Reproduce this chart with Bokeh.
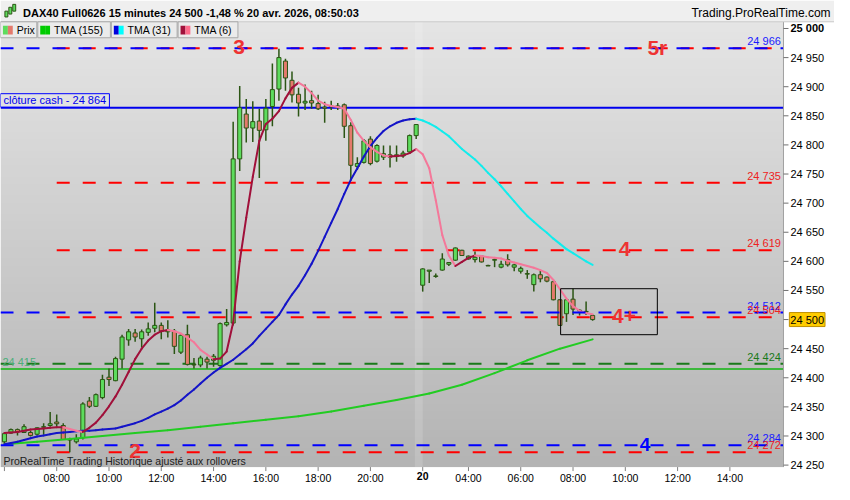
import numpy as np
from bokeh.plotting import figure
from bokeh.models import ColumnDataSource, Label, BoxAnnotation
from bokeh.core.properties import value
from bokeh.embed import file_html
from bokeh.resources import INLINE

# DAX40 15-minute bars; x is the bar number (sessions joined, no gaps), bar 0 = 06:00
opens = [24290, 24305, 24311, 24306, 24306, 24303, 24315, 24318, 24324, 24318,
         24294, 24290, 24297, 24360, 24351, 24366, 24401, 24395, 24432, 24465,
         24477, 24467, 24478, 24485, 24490, 24479, 24480, 24444, 24474, 24422,
         24422, 24432, 24430, 24421, 24491, 24494, 24776, 24853, 24829, 24841,
         24826, 24866, 24896, 24944, 24911, 24887, 24872, 24876, 24871, 24865,
         24867, 24867, 24869, 24833, 24763, 24770, 24810, 24772, 24779, 24783,
         24783, 24781, 24788, 24816, 24559, 24583, 24574, 24585, 24595, 24602,
         24619, 24604, 24603, 24609, 24593, 24602, 24590, 24603, 24590, 24583,
         24578, 24560, 24577, 24573, 24565, 24534, 24510, 24535, 24516, 24514,
         24507]
highs = [24306, 24313, 24313, 24320, 24309, 24315, 24322, 24341, 24337, 24322,
         24297, 24303, 24358, 24367, 24373, 24405, 24416, 24436, 24474, 24484,
         24484, 24483, 24495, 24529, 24495, 24499, 24484, 24476, 24491, 24434,
         24438, 24436, 24441, 24495, 24518, 24840, 24901, 24879, 24875, 24862,
         24879, 24940, 24965, 24948, 24926, 24898, 24904, 24893, 24886, 24874,
         24876, 24872, 24871, 24839, 24779, 24810, 24815, 24801, 24799, 24799,
         24799, 24790, 24818, 24836, 24588, 24585, 24579, 24614, 24598, 24624,
         24620, 24610, 24617, 24611, 24594, 24606, 24601, 24612, 24596, 24591,
         24585, 24579, 24585, 24574, 24566, 24535, 24535, 24553, 24518, 24531,
         24509]
lows = [24286, 24304, 24301, 24305, 24299, 24301, 24302, 24316, 24316, 24293,
        24272, 24287, 24294, 24348, 24350, 24363, 24386, 24394, 24416, 24455,
        24462, 24452, 24472, 24478, 24466, 24469, 24441, 24441, 24421, 24416,
        24418, 24416, 24419, 24419, 24488, 24490, 24755, 24804, 24805, 24743,
        24807, 24832, 24876, 24893, 24873, 24849, 24860, 24862, 24860, 24838,
        24860, 24860, 24812, 24740, 24757, 24768, 24765, 24770, 24774, 24761,
        24771, 24778, 24785, 24810, 24548, 24563, 24572, 24584, 24592, 24601,
        24609, 24603, 24598, 24598, 24592, 24590, 24588, 24591, 24583, 24579,
        24570, 24548, 24564, 24564, 24533, 24490, 24496, 24508, 24507, 24508,
        24498]
closes = [24304, 24311, 24307, 24316, 24301, 24314, 24316, 24321, 24321, 24294,
          24293, 24295, 24355, 24351, 24371, 24397, 24397, 24433, 24470, 24479,
          24470, 24479, 24484, 24490, 24480, 24482, 24454, 24473, 24423, 24423,
          24434, 24427, 24437, 24493, 24495, 24776, 24864, 24829, 24840, 24825,
          24863, 24895, 24950, 24915, 24886, 24872, 24875, 24872, 24862, 24863,
          24866, 24866, 24832, 24765, 24768, 24807, 24768, 24799, 24785, 24779,
          24780, 24786, 24816, 24835, 24587, 24585, 24575, 24604, 24598, 24623,
          24610, 24609, 24607, 24599, 24592, 24603, 24595, 24594, 24594, 24588,
          24579, 24577, 24570, 24566, 24534, 24490, 24534, 24518, 24515, 24513,
          24500]

tma6 = [24305, 24306, 24307, 24309, 24311, 24312, 24313, 24314, 24315, 24315,
        24312, 24309, 24307, 24314, 24323, 24336, 24351, 24368, 24388, 24410,
        24432, 24450, 24464, 24474, 24480, 24482, 24480, 24476, 24469, 24461,
        24448, 24440, 24432, 24433, 24445, 24495, 24600, 24675, 24745, 24807,
        24836, 24845, 24858, 24880, 24898, 24907, 24900, 24889, 24876, 24870,
        24867, 24865, 24862, 24843, 24821, 24807, 24796, 24788, 24782, 24780,
        24781, 24782, 24786, 24793, 24784, 24760, 24705, 24645, 24610, 24592,
        24599, 24606, 24610, 24609, 24607, 24606, 24605, 24601, 24598, 24595,
        24592, 24589, 24585, 24580, 24568, 24552, 24536, 24523, 24515, 24511,
        24509]
tma31 = [24286, 24288, 24290, 24293, 24296, 24299, 24301, 24303, 24305, 24306,
         24307, 24308, 24309, 24309, 24310, 24311, 24312, 24313, 24316, 24319,
         24322, 24326, 24331, 24337, 24342, 24347, 24353, 24361, 24371, 24380,
         24390, 24400, 24409, 24417, 24424, 24431, 24440, 24449, 24459, 24472,
         24484, 24496, 24508, 24526, 24543, 24558, 24576, 24596, 24618, 24642,
         24666, 24690, 24716, 24740, 24760, 24780, 24798, 24812, 24824, 24832,
         24838, 24842, 24844, 24845, 24842, 24837, 24831, 24823, 24815, 24804,
         24793, 24784, 24775, 24764, 24752, 24741, 24729, 24716, 24703, 24690,
         24678, 24668, 24658, 24649, 24639, 24630, 24621, 24614, 24607, 24600,
         24594]
tma155_bar = [0, 5, 10, 15, 20, 25, 30, 35, 40, 45, 50, 55, 60, 65, 70, 75, 80, 85, 90]
tma155 = [24286, 24290, 24295, 24300, 24305, 24310, 24316, 24322, 24328, 24334,
          24342, 24352, 24362, 24373, 24388, 24408, 24430, 24450, 24466]

tick_bar = [0, 8, 16, 24, 32, 40, 48, 56, 71, 79, 87, 95, 103, 111]
tick_lab = ["", "08:00", "10:00", "12:00", "14:00", "16:00", "18:00", "20:00",
            "04:00", "06:00", "08:00", "10:00", "12:00", "14:00"]
day_bar = 64
day_lab = "20"
price_ticks = list(range(24250, 25001, 50))

red_levels = [24966, 24735, 24619, 24504, 24272]
red_from = 8
blue_levels = [24966, 24512, 24284]
cash_close = 24864
green_dash_level = 24424
green_level = 24415
last_price = 24500

right_vals = [24966, 24735, 24619, 24512, 24504, 24424, 24284, 24272]
right_cols = ["#1a1aff", "#ee2222", "#ee2222", "#1a1aff", "#ee2222", "#1a7a1a", "#1a1aff", "#ee2222"]

mark_text = ["3", "5r", "4", "4+", "4", "2"]
mark_bar = [35.9, 99.9, 94.9, 94.8, 98.0, 20.0]
mark_price = [24966, 24966, 24619, 24504, 24284, 24272]
mark_col = ["#ee3333", "#ee3333", "#ee3333", "#ee3333", "#0000ff", "#ee3333"]
mark_size = ["21px", "21px", "21px", "21px", "19px", "21px"]

zone_bars = [85.1, 99.9]
zone_prices = [24474, 24553]

FONT = "Liberation Sans"
W, H = 834, 484
SX, SY = W / 850.0, H / 500.0          # reference layout -> canvas pixels
X0, X1 = -0.6, 119.2                   # bars visible in the price pane
Y0, Y1 = 24246.6, 25011.5              # prices visible in the price pane
PANE_R, PANE_T, PANE_B = 798, 22, 482  # price pane edges in the reference layout
ppb = PANE_R * SX / (X1 - X0)          # pixels per bar
ppp = (PANE_B - PANE_T) * SY / (Y1 - Y0)  # pixels per index point
XR = (X0, X0 + W / ppb)
YR = (Y0 - (H - PANE_B * SY) / ppp, Y1 + PANE_T * SY / ppp)


def sx(px):
    return px * SX


def sy(py):
    return (500.0 - py) * SY


def fmt(v):
    return f"{v:,}".replace(",", " ")


def screen_box(l, r, t, b, **kw):
    return BoxAnnotation(left=sx(l), right=sx(r), top=sy(t), bottom=sy(b),
                         left_units="screen", right_units="screen", top_units="screen",
                         bottom_units="screen", fill_alpha=1, line_alpha=1, **kw)


p = figure(width=W, height=H, x_range=XR, y_range=YR, output_backend="svg",
           toolbar_location=None, x_axis_location=None, y_axis_location=None,
           min_border=0, background_fill_color="white", border_fill_color="white",
           outline_line_color=None)
p.grid.visible = False

# grey vertical gradient of the price pane
n = 120
shade = np.linspace(180, 229, n).astype(np.uint8)
img = np.zeros((n, 1), dtype=np.uint32)
rgba = img.view(dtype=np.uint8).reshape((n, 1, 4))
rgba[:, 0, 0] = shade
rgba[:, 0, 1] = shade
rgba[:, 0, 2] = shade
rgba[:, 0, 3] = 255
p.image_rgba(image=[img], x=X0, y=Y0, dw=X1 - X0, dh=Y1 - Y0, level="image")
p.add_layout(BoxAnnotation(left=day_bar - 1.2, right=day_bar, top=Y1, bottom=Y0,
                           fill_color="white", fill_alpha=0.15, line_color=None,
                           level="underlay"))

# levels (red first so the blue dashes sit on top)
p.segment(x0=[red_from] * len(red_levels), y0=red_levels, x1=[X1] * len(red_levels),
          y1=red_levels, line_color="#ff0000", line_width=2, line_dash="13 13")
p.segment(x0=[X0], y0=[green_level], x1=[X1], y1=[green_level], line_color="#3cb83c", line_width=2)
p.segment(x0=[X0], y0=[green_dash_level], x1=[X1], y1=[green_dash_level],
          line_color="#1a7a1a", line_width=2, line_dash="13 13")
p.segment(x0=[X0], y0=[cash_close], x1=[X1], y1=[cash_close], line_color="#0000ee", line_width=2)

# candles
bars = list(range(len(closes)))
src = ColumnDataSource(dict(
    x=bars, high=highs, low=lows,
    top=[max(o, c) for o, c in zip(opens, closes)],
    bottom=[min(o, c) for o, c in zip(opens, closes)],
    fill=["#5ddc5d" if c >= o else "#e47a6c" for o, c in zip(opens, closes)]))
p.segment(x0="x", y0="high", x1="x", y1="low", source=src, line_color="#2b5514", line_width=1.5)
p.vbar(x="x", width=0.62, top="top", bottom="bottom", source=src,
       fill_color="fill", line_color="#2b5514", line_width=1)


def two_tone(xs, ys, rising, falling):
    col = [rising if b >= a else falling for a, b in zip(ys[:-1], ys[1:])]
    p.segment(x0=xs[:-1], y0=ys[:-1], x1=xs[1:], y1=ys[1:], line_color=col,
              line_width=2, line_cap="round")


two_tone(tma155_bar, tma155, "#22cc22", "#22cc22")
two_tone(bars, tma31, "#1414c8", "#12ecec")
two_tone(bars, tma6, "#a0103a", "#f4789a")

p.segment(x0=[X0] * len(blue_levels), y0=blue_levels, x1=[X1] * len(blue_levels),
          y1=blue_levels, line_color="#0000ff", line_width=2, line_dash="13 13")

p.add_layout(BoxAnnotation(left=zone_bars[0], right=zone_bars[1], bottom=zone_prices[0],
                           top=zone_prices[1], fill_alpha=0, line_color="black",
                           line_alpha=1, line_width=1))

# price scale on the right
nt = len(price_ticks)
p.segment(x0=[X1], y0=[Y0], x1=[X1], y1=[Y1], line_color="#a0a0a0", line_width=1)
p.segment(x0=[X1] * nt, y0=price_ticks, x1=[X1 + 5 / ppb] * nt, y1=price_ticks,
          line_color="#707070", line_width=1)
p.text(x=[X1] * (nt - 1), y=price_ticks[:-1], text=[fmt(t) for t in price_ticks[:-1]],
       x_offset=7, text_baseline="middle", text_color="black",
       text_font=value(FONT), text_font_size=value("11px"))
p.text(x=[X1], y=price_ticks[-1:], text=[fmt(price_ticks[-1])], x_offset=7,
       text_baseline="middle", text_color="black", text_font=value(FONT),
       text_font_size=value("11px"), text_font_style="bold")

# time scale below
nx = len(tick_bar)
p.segment(x0=tick_bar, y0=[Y0] * nx, x1=tick_bar, y1=[Y0 - 4 / ppp] * nx,
          line_color="#808080", line_width=1)
p.segment(x0=[day_bar], y0=[Y0], x1=[day_bar], y1=[Y0 - 4 / ppp], line_color="#808080")
p.text(x=tick_bar, y=[Y0] * nx, text=tick_lab, y_offset=5, text_align="center",
       text_baseline="top", text_color="black", text_font=value(FONT),
       text_font_size=value("10.5px"))
p.text(x=[day_bar], y=[Y0], text=[day_lab], y_offset=5, text_align="center",
       text_baseline="top", text_color="black", text_font=value(FONT),
       text_font_size=value("10.5px"), text_font_style="bold")

# level values on the right of the pane
for v, c in zip(right_vals, right_cols):
    p.add_layout(Label(x=118.8, y=v, y_offset=1, text=fmt(v),
                       text_align="right", text_baseline="bottom", text_color=c,
                       text_font=FONT, text_font_size="11px"))
p.add_layout(Label(x=-0.3, y=green_level, y_offset=1, text=fmt(green_level),
                   text_baseline="bottom", text_color="#4caf7a", text_font=FONT,
                   text_font_size="11px"))

for t, b, v, c, s in zip(mark_text, mark_bar, mark_price, mark_col, mark_size):
    p.add_layout(Label(x=b, y=v, y_offset=1, text=t, text_align="center",
                       text_baseline="middle", text_color=c, text_font=FONT,
                       text_font_style="bold", text_font_size=s))

# "clôture cash" tag
p.add_layout(BoxAnnotation(left=0, right=sx(111), left_units="screen", right_units="screen",
                           bottom=cash_close + 1, top=cash_close + 24, fill_color="#e2e2e2",
                           fill_alpha=1, line_color="#0000ff", line_alpha=1, line_width=1))
p.add_layout(Label(x=sx(3), x_units="screen", y=cash_close, y_offset=8,
                   text="clôture cash -  " + fmt(cash_close),
                   text_baseline="middle", text_color="#0000ee", text_font=FONT,
                   text_font_size="11px"))

# current price tag on the scale
p.add_layout(Label(x=sx(804), x_units="screen", y=last_price, text=fmt(last_price),
                   text_baseline="middle", text_color="black", text_font=FONT,
                   text_font_size="11px", background_fill_color="#ffcc00",
                   border_line_color="#c09000", padding=1))

# header bar
p.quad(left=[XR[0]], right=[XR[1]], bottom=[Y1], top=[YR[1]], fill_color="#efefef",
       line_color=None)
p.segment(x0=[XR[0]], y0=[Y1], x1=[XR[1]], y1=[Y1], line_color="#c8c8c8", line_width=1)
for l, r, t, b in [(4.5, 7.5, 11, 17), (8.5, 11.5, 7, 14), (12.5, 15.5, 4, 11)]:
    p.add_layout(screen_box(l, r, t, b, fill_color="#5ddc5d", line_color="#2b5514",
                            line_width=1))
p.add_layout(Label(x=sx(23), y=sy(12.5), x_units="screen", y_units="screen",
                   text="DAX40 Full0626 15 minutes 24 500 -1,48 % 20 avr. 2026, 08:50:03",
                   text_baseline="middle", text_font=FONT, text_font_style="bold",
                   text_font_size="11px", text_color="black"))
p.add_layout(Label(x=sx(846), y=sy(12.5), x_units="screen", y_units="screen",
                   text="Trading.ProRealTime.com", text_align="right", text_baseline="middle",
                   text_font=FONT, text_font_size="12px", text_color="black"))

# legend row
leg_names = ["Prix", "TMA (155)", "TMA (31)", "TMA (6)"]
leg_px = [(0, 37), (38, 112), (113, 180), (181, 242)]
leg_cols = [("#5ddc5d", "#e47a6c"), ("#00cc00", "#00cc00"), ("#0000dd", "#00ffff"),
            ("#a0103a", "#ff6b8b")]
for name, (l, r), (c1, c2) in zip(leg_names, leg_px, leg_cols):
    p.add_layout(screen_box(l, r, 22, 38.5, fill_color="#ebebeb", line_color="#a8a8a8",
                            line_width=1))
    for k, c in enumerate([c1, c2]):
        p.add_layout(screen_box(l + 2.5 + 5 * k, l + 7.5 + 5 * k, 26, 35,
                                fill_color=c, line_color=None))
    p.add_layout(Label(x=sx(l + 16.5), y=sy(30.5), x_units="screen", y_units="screen",
                       text=name, text_baseline="middle", text_font=FONT,
                       text_font_size="10.5px", text_color="black"))

p.add_layout(Label(x=sx(3), y=sy(476), x_units="screen", y_units="screen",
                   text="ProRealTime Trading  Historique ajusté aux rollovers",
                   text_baseline="middle", text_font=FONT, text_font_size="10.5px",
                   text_color="#202020"))

open("out.html", "w").write(file_html(p, INLINE))
